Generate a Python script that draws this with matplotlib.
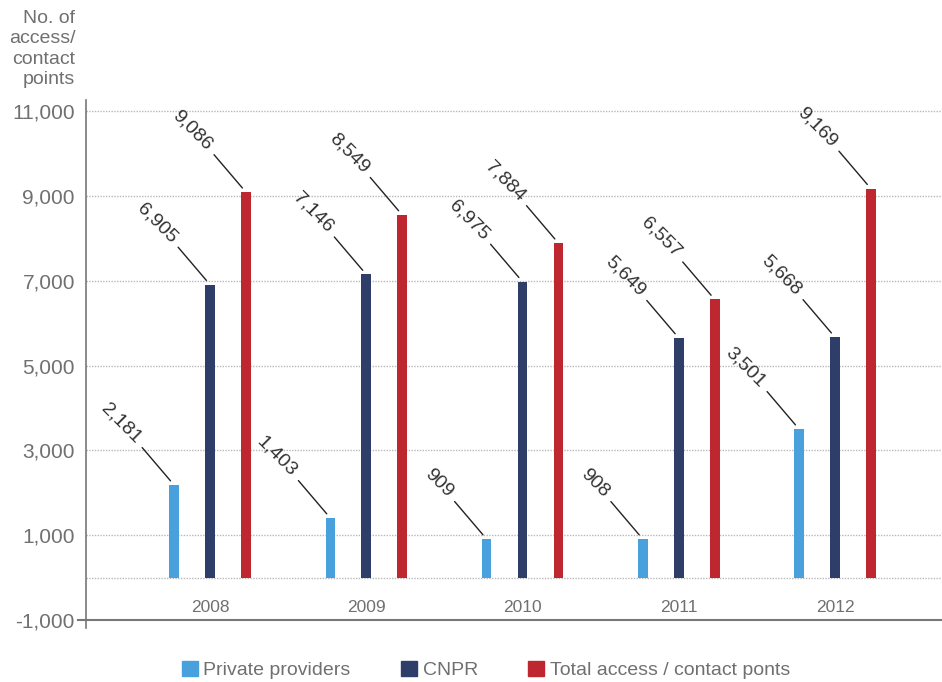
import numpy as np
import matplotlib.pyplot as plt
from matplotlib.patches import Patch

years = ["2008", "2009", "2010", "2011", "2012"]
private = [2181, 1403, 909, 908, 3501]
cnpr = [6905, 7146, 6975, 5649, 5668]
total = [9086, 8549, 7884, 6557, 9169]
series_names = ["Private providers", "CNPR", "Total access / contact ponts"]
yticks = [-1000, 1000, 3000, 5000, 7000, 9000, 11000]

colors = ["#48a0dc", "#2e3e68", "#be2630"]
gray = "#707070"
plt.rcParams['font.family'] = ['Liberation Sans', 'DejaVu Sans']

fig = plt.figure(figsize=(9.42, 6.82), dpi=100)
ax = fig.add_axes([0.0913, 0.0909, 0.9087, 0.7625])

x = np.arange(len(years))
offset = 0.23
width = 0.062

# gridlines (every 2000 plus zero)
for g in yticks[1:] + [0]:
    ax.axhline(g, color="#b8b8b8", lw=1, ls=(0, (1, 1)), zorder=0)

for k, vals in enumerate([private, cnpr, total]):
    xs = x + (k - 1) * offset
    ax.bar(xs, vals, width=width, color=colors[k], zorder=2)
    for xi, v in zip(xs, vals):
        ax.annotate("", xy=(xi, v), xytext=(-23, 27), textcoords="offset points",
                    arrowprops=dict(arrowstyle="-", color="#222222", lw=1,
                                    shrinkA=0, shrinkB=4))
        ax.annotate(f"{v:,}", xy=(xi, v), xytext=(-26, 32), textcoords="offset points",
                    rotation=-45, rotation_mode="anchor", ha="right", va="center",
                    fontsize=14, color="#333333")

for xi, yr in zip(x, years):
    ax.text(xi, -700, yr, ha="center", va="center", fontsize=12.5, color=gray)

ax.set_xlim(-0.794, 4.685)
ax.set_ylim(-1000, 11260)
ax.set_xticks([])
ax.set_yticks(yticks)
ax.set_yticklabels([f"{t:,}" for t in yticks], fontsize=15, color=gray)
ax.tick_params(axis="y", length=0, pad=8)

for s in ["top", "right"]:
    ax.spines[s].set_visible(False)
ax.spines["left"].set_color("#777777")
ax.spines["bottom"].set_color("#777777")
ax.spines["left"].set_linewidth(1.2)
ax.spines["bottom"].set_linewidth(1.5)
# little extensions of the axis lines below/left of the corner
ax.plot([-0.794, -0.794], [-1000, -1190], color="#777777", lw=1.2, clip_on=False)
ax.plot([-0.794, -0.845], [-1000, -1000], color="#777777", lw=1.5, clip_on=False)

fig.text(0.08, 0.985, "No. of\naccess/\ncontact\npoints", ha="right", va="top",
         fontsize=14, color=gray, linespacing=1.25)

handles = [Patch(color=c) for c in colors]
fig.legend(handles, series_names, loc="center", bbox_to_anchor=(0.516, 0.018),
           ncol=3, frameon=False, fontsize=14, handlelength=0.8, handleheight=0.8,
           handletextpad=0.3, columnspacing=2.6, labelcolor=gray)

fig.savefig("out.png", dpi=100)
